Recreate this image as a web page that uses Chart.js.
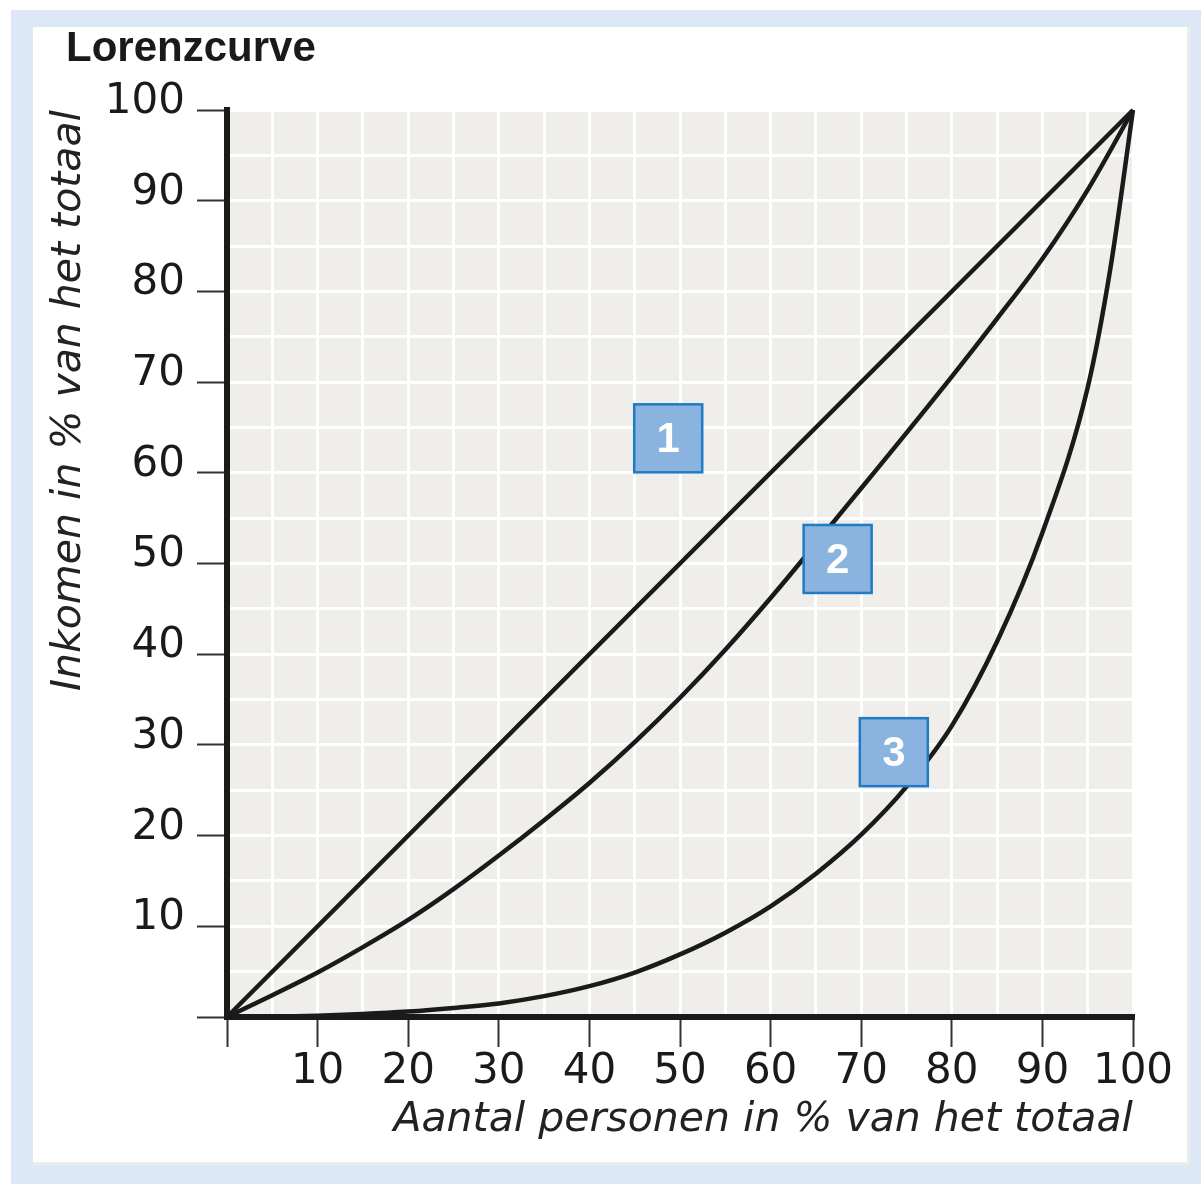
<!DOCTYPE html>
<html><head><meta charset="utf-8">
<script src="https://cdn.jsdelivr.net/npm/chart.js@4/dist/chart.umd.min.js"></script>
<style>html,body{margin:0;padding:0;background:#fff}#c{display:block}</style>
</head><body>
<canvas id="c" width="1201" height="1184"></canvas>
<script>
const chartTitle = 'Lorenzcurve';
const xAxisTitle = 'Aantal personen in % van het totaal';
const yAxisTitle = 'Inkomen in % van het totaal';
const curveNames = ['1', '2', '3'];

const curve1X = [0, 100];
const curve1Y = [0, 100];
const curve2X = [0, 5, 10, 15, 20, 25, 30, 35, 40, 45, 50, 55, 60, 65, 70, 75, 80, 85, 90, 95, 100];
const curve2Y = [0, 2.4, 4.9, 7.7, 10.7, 14.1, 17.8, 21.7, 25.8, 30.3, 35.2, 40.5, 46.2, 52.2, 58.3, 64.4, 70.6, 77.0, 83.6, 91.2, 100];
const curve3X = [0, 5, 10, 15, 20, 25, 30, 35, 40, 45, 50, 55, 60, 65, 70, 75, 80, 85, 90, 95, 97.5, 100];
const curve3Y = [0, 0.03, 0.15, 0.33, 0.6, 1.0, 1.5, 2.3, 3.4, 4.9, 6.9, 9.3, 12.2, 15.8, 20.1, 25.4, 32.1, 41.4, 53.4, 69.4, 82.5, 100];

const labelAnchorX = [48.7, 67.4, 73.6];
const labelAnchorY = [63.8, 50.5, 29.2];

const axisMin = 0, axisMax = 100, gridStep = 5, labelStep = 10;

const pts = (xs, ys) => xs.map((x, i) => ({x, y: ys[i]}));

const INK = '#1a1a1a';
const FONT = '"DejaVu Sans", sans-serif';

const framePlugin = {
  id: 'frame',
  beforeDraw(chart) {
    const ctx = chart.ctx, a = chart.chartArea;
    ctx.save();
    ctx.fillStyle = '#ffffff';
    ctx.fillRect(0, 0, chart.width, chart.height);
    ctx.fillStyle = '#dce8f5';
    ctx.fillRect(11, 10, chart.width - 11, chart.height - 10);
    ctx.fillStyle = '#ececec';
    ctx.fillRect(33, 27, 1157, 1138);
    ctx.fillStyle = '#ffffff';
    ctx.fillRect(33, 27, 1154, 1135);
    ctx.fillStyle = '#efeeeb';
    ctx.fillRect(a.left, a.top, a.right - a.left, a.bottom - a.top);
    ctx.fillStyle = INK;
    ctx.font = 'bold 42px "Liberation Sans", Arial, sans-serif';
    ctx.textBaseline = 'alphabetic';
    ctx.textAlign = 'left';
    ctx.fillText(chartTitle, 66, 61);
    ctx.restore();
  },
  afterDatasetsDraw(chart) {
    const ctx = chart.ctx;
    const xs = chart.scales.x, ys = chart.scales.y;
    ctx.save();
    curveNames.forEach((name, i) => {
      const cx = xs.getPixelForValue(labelAnchorX[i]);
      const cy = ys.getPixelForValue(labelAnchorY[i]);
      const s = 68;
      ctx.fillStyle = '#8ab3df';
      ctx.fillRect(cx - s / 2, cy - s / 2, s, s);
      ctx.strokeStyle = '#1f7bc3';
      ctx.lineWidth = 2.5;
      ctx.strokeRect(cx - s / 2, cy - s / 2, s, s);
      ctx.fillStyle = '#ffffff';
      ctx.font = 'bold 42px "Liberation Sans", Arial, sans-serif';
      ctx.textAlign = 'center';
      ctx.textBaseline = 'middle';
      ctx.fillText(name, cx, cy + 2);
    });
    ctx.restore();
  }
};

const tickCb = v => (v % labelStep === 0 && v !== 0) ? String(v) : '';
const tickCol = c => (c.tick && c.tick.value % labelStep === 0) ? '#333333' : 'rgba(0,0,0,0)';

const lineStyle = {
  borderColor: INK, borderWidth: 4.5, pointRadius: 0, pointHoverRadius: 0,
  fill: false, cubicInterpolationMode: 'monotone', clip: false
};

new Chart(document.getElementById('c'), {
  type: 'line',
  data: {
    datasets: [
      Object.assign({label: curveNames[0], data: pts(curve1X, curve1Y)}, lineStyle),
      Object.assign({label: curveNames[1], data: pts(curve2X, curve2Y)}, lineStyle),
      Object.assign({label: curveNames[2], data: pts(curve3X, curve3Y)}, lineStyle)
    ]
  },
  options: {
    responsive: false,
    animation: false,
    events: [],
    layout: {padding: {top: 110, right: 68, bottom: 22, left: 33}},
    plugins: {legend: {display: false}, title: {display: false}, tooltip: {enabled: false}},
    scales: {
      x: {
        type: 'linear', min: axisMin, max: axisMax,
        afterFit(s) { s.height = 145; },
        ticks: {stepSize: gridStep, callback: tickCb, autoSkip: false, maxRotation: 0,
                color: INK, font: {family: FONT, size: 42}, padding: 0},
        grid: {color: '#ffffff', lineWidth: 3, tickLength: 30, tickWidth: 2, tickColor: tickCol},
        border: {color: INK, width: 6},
        title: {display: true, text: xAxisTitle, align: 'end', color: '#222222',
                font: {family: FONT, size: 41, style: 'italic'}, padding: {top: 0, bottom: 17}}
      },
      y: {
        type: 'linear', min: axisMin, max: axisMax,
        afterFit(s) { s.width = 194; },
        ticks: {stepSize: gridStep, callback: tickCb, autoSkip: false,
                color: INK, font: {family: FONT, size: 42}, padding: 12, labelOffset: -8},
        grid: {color: '#ffffff', lineWidth: 3, tickLength: 30, tickWidth: 2, tickColor: tickCol},
        border: {color: INK, width: 6},
        title: {display: true, text: yAxisTitle, align: 'end', color: '#222222',
                font: {family: FONT, size: 41, style: 'italic'}, padding: {top: 12, bottom: 0}}
      }
    }
  },
  plugins: [framePlugin]
});
</script>
</body></html>
